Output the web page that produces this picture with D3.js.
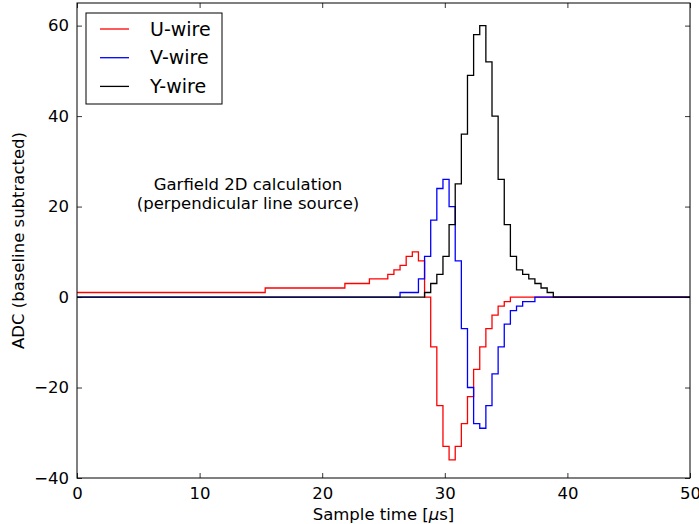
<!DOCTYPE html>
<html>
<head>
<meta charset="utf-8">
<script src="https://cdn.jsdelivr.net/npm/d3@7"></script>
<style>
  body { margin: 0; background: #fff; }
  svg { display: block; font-family: "DejaVu Sans", sans-serif; }
</style>
</head>
<body>
<svg id="chart" width="699" height="524"></svg>
<script>
// Step-change times (µs) and levels (ADC) for each wire
const uTimes  = [0, 15.35, 21.85, 23.85, 25.35, 25.85, 26.35, 26.85, 27.35, 27.85, 28.35, 28.85, 29.35, 29.85, 30.35, 30.85, 31.35, 31.85, 32.35, 32.85, 33.35, 33.85, 34.35, 34.85, 35.35, 50];
const uValues = [1, 2, 3, 4, 5, 6, 7, 9, 10, 8, 0, -11, -24, -33, -36, -33, -28, -22, -16, -11, -7, -4, -2, -1, 0, 0];

const vTimes  = [0, 26.35, 27.85, 28.35, 28.85, 29.35, 29.85, 30.35, 30.85, 31.35, 31.85, 32.35, 32.85, 33.35, 33.85, 34.35, 34.85, 35.35, 35.85, 36.35, 37.35, 50];
const vValues = [0, 1, 4, 9, 17, 24, 26, 20, 8, -7, -20, -28, -29, -24, -17, -11, -6, -3, -2, -1, 0, 0];

const yTimes  = [0, 28.35, 28.85, 29.35, 29.85, 30.35, 30.85, 31.35, 31.85, 32.35, 32.85, 33.35, 33.85, 34.35, 34.85, 35.35, 35.85, 36.35, 36.85, 37.35, 37.85, 38.35, 38.85, 50];
const yValues = [0, 1, 3, 5, 9, 16, 25, 36, 49, 58, 60, 52, 40, 26, 16, 9, 6, 5, 4, 3, 2, 1, 0, 0];

const seriesNames  = ["U-wire", "V-wire", "Y-wire"];
const seriesColors = ["#ff0000", "#0000ff", "#000000"];
const xTicks = [0, 10, 20, 30, 40, 50];
const yTicks = [-40, -20, 0, 20, 40, 60];
const xDomain = [0, 50];
const yDomain = [-40, 65];
const annotation = ["Garfield 2D calculation", "(perpendicular line source)"];
const yLabel = "ADC (baseline subtracted)";

const W = 699, H = 524;
const m = { left: 77, right: 9, top: 3, bottom: 46 };
const pw = W - m.left - m.right, ph = H - m.top - m.bottom;

const svg = d3.select("#chart");
const g = svg.append("g").attr("transform", `translate(${m.left},${m.top})`);

const x = d3.scaleLinear().domain(xDomain).range([0, pw]);
const y = d3.scaleLinear().domain(yDomain).range([ph, 0]);

g.append("clipPath").attr("id", "clip").append("rect")
  .attr("width", pw).attr("height", ph);

const line = d3.line()
  .x(d => x(d[0])).y(d => y(d[1]))
  .curve(d3.curveStepAfter);

const series = [
  { times: uTimes, values: uValues },
  { times: vTimes, values: vValues },
  { times: yTimes, values: yValues }
];

const plot = g.append("g").attr("clip-path", "url(#clip)");
series.forEach((s, i) => {
  const pts = s.times.map((t, k) => [t, s.values[k]]);
  plot.append("path")
    .datum(pts)
    .attr("fill", "none")
    .attr("stroke", seriesColors[i])
    .attr("stroke-width", 1.3)
    .attr("d", line);
});

// Axes with inward ticks on all four sides
const fmt = d => d < 0 ? "\u2212" + Math.abs(d) : String(d);
const tickLen = 5;
const xb = g.append("g").attr("transform", `translate(0,${ph})`)
  .call(d3.axisBottom(x).tickValues(xTicks).tickSizeInner(-tickLen).tickSizeOuter(0).tickPadding(9).tickFormat(fmt));
const xt = g.append("g")
  .call(d3.axisTop(x).tickValues(xTicks).tickSizeInner(-tickLen).tickSizeOuter(0).tickFormat(""));
const yl = g.append("g")
  .call(d3.axisLeft(y).tickValues(yTicks).tickSizeInner(-tickLen).tickSizeOuter(0).tickPadding(8).tickFormat(fmt));
const yr = g.append("g").attr("transform", `translate(${pw},0)`)
  .call(d3.axisRight(y).tickValues(yTicks).tickSizeInner(-tickLen).tickSizeOuter(0).tickFormat(""));

[xb, xt, yl, yr].forEach(a => {
  a.select(".domain").remove();
  a.selectAll("line").attr("stroke", "#000").attr("stroke-width", 0.8);
  a.selectAll("text").attr("fill", "#000").style("font-size", "16.5px").style("font-family", "DejaVu Sans");
});

g.append("rect").attr("width", pw).attr("height", ph)
  .attr("fill", "none").attr("stroke", "#000").attr("stroke-width", 1);

// Axis labels
const xl = svg.append("text")
  .attr("x", m.left + pw / 2).attr("y", 520)
  .attr("text-anchor", "middle").style("font-size", "16.5px");
xl.append("tspan").text("Sample time [");
xl.append("tspan").style("font-style", "italic").text("\u03bc");
xl.append("tspan").text("s]");

svg.append("text")
  .attr("transform", `translate(24,${m.top + ph / 2}) rotate(-90)`)
  .attr("text-anchor", "middle").style("font-size", "16.5px")
  .text(yLabel);

// Annotation
const ann = svg.append("text").attr("text-anchor", "middle").style("font-size", "16.5px");
annotation.forEach((t, i) => {
  ann.append("tspan").attr("x", 248).attr("y", 190 + i * 19).text(t);
});

// Legend
const lg = svg.append("g").attr("transform", "translate(86,13)");
lg.append("rect").attr("width", 136).attr("height", 91)
  .attr("fill", "#fff").attr("stroke", "#000").attr("stroke-width", 1);
seriesNames.forEach((n, i) => {
  const cy = 16 + i * 28.7;
  lg.append("line").attr("x1", 14).attr("x2", 43).attr("y1", cy).attr("y2", cy)
    .attr("stroke", seriesColors[i]).attr("stroke-width", 1.3);
  lg.append("text").attr("x", 64).attr("y", cy).attr("dy", "0.35em")
    .style("font-size", "19px").text(n);
});
</script>
</body>
</html>
